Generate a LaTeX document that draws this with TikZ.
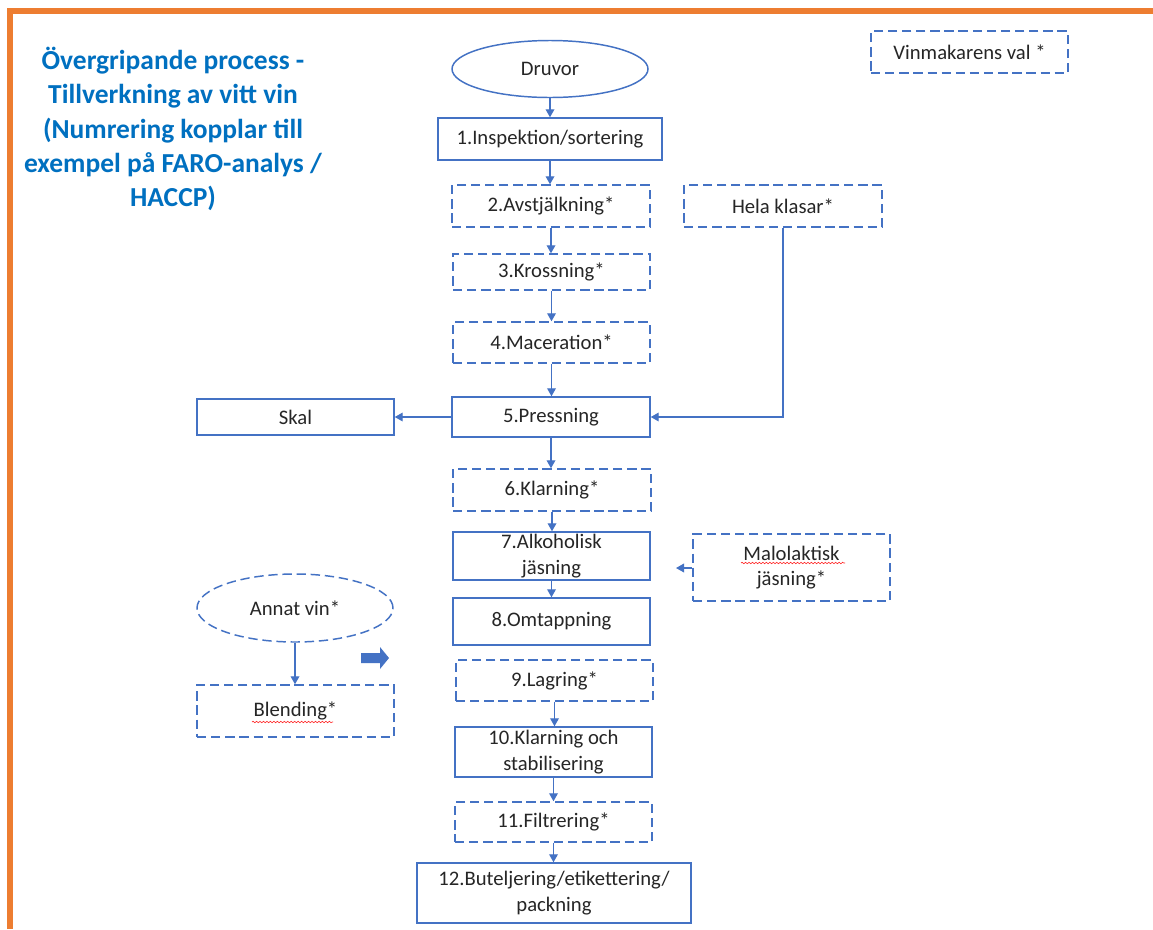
\documentclass[tikz,border=0pt]{standalone}
\usepackage{fontspec}
\setmainfont{Carlito}
\usetikzlibrary{arrows.meta,shapes.geometric,decorations.pathmorphing}
\definecolor{lineblue}{HTML}{4472C4}
\definecolor{titleblue}{HTML}{0070C0}
\definecolor{framecol}{HTML}{ED7D31}
\definecolor{txt}{HTML}{262626}

\begin{document}
\begin{tikzpicture}[x=0.75pt,y=-0.75pt,
  box/.style={draw=lineblue, line width=1.1pt, inner sep=0pt, text=txt,
    font=\fontsize{15.5}{19}\selectfont, align=center},
  optbox/.style={box, dash pattern=on 7pt off 3.6pt},
  oval/.style={box, ellipse},
  sz/.style 2 args={minimum width={#1*0.75pt}, minimum height={#2*0.75pt}},
  flow/.style={draw=lineblue, line width=1pt, -{Triangle[length=6pt,width=6.5pt]}},
  spell/.style={draw=red!85, line width=0.45pt, decorate,
    decoration={snake, amplitude=0.55pt, segment length=2.6pt}},
]
\useasboundingbox (0,0) rectangle (1153,929);
\fill[white] (0,0) rectangle (1153,929);

% page frame
\draw[framecol, line width=4.3pt, line join=miter] (10,929) -- (10,11) -- (1153,11);

% heading
\node[text=titleblue, font=\fontsize{20.6}{25.7}\selectfont\bfseries, align=center]
  (title) at (173,129) {Övergripande process -\\Tillverkning av vitt vin\\(Numrering kopplar till\\exempel på FARO-analys /\\HACCP)};

% legend
\node[optbox, sz={197}{42}] (legend) at (969.5,52) {Vinmakarens val *};

% main chain
\node[oval, sz={196}{57}] (druvor) at (550,69) {Druvor};
\node[box, sz={224}{42}] (s1) at (550,139) {1.Inspektion/sortering};
\node[optbox, sz={198}{42}] (s2) at (551,206) {2.Avstjälkning*};
\node[optbox, sz={197}{36}] (s3) at (551.5,272) {3.Krossning*};
\node[optbox, sz={197}{41}] (s4) at (551.5,342.5) {4.Maceration*};
\node[box, sz={198}{40}] (s5) at (551,417) {5.Pressning};
\node[optbox, sz={198}{42}] (s6) at (552,490) {6.Klarning*};
\node[box, sz={197}{48}] (s7) at (551.5,556) {7.Alkoholisk\\jäsning};
\node[box, sz={197}{47}] (s8) at (551.5,621.5) {8.Omtappning};
\node[optbox, sz={197}{41}] (s9) at (554.5,680.5) {9.Lagring*};
\node[box, sz={197}{50}] (s10) at (553.5,752) {10.Klarning och\\stabilisering};
\node[optbox, sz={197}{40}] (s11) at (553.5,822) {11.Filtrering*};
\node[box, sz={274}{60}] (s12) at (554,893) {12.Buteljering/etikettering/\\packning};

% side branches
\node[optbox, sz={198}{42}] (hela) at (783,206) {Hela klasar*};
\node[box, sz={197}{36}] (skal) at (295.5,417) {Skal};
\node[optbox, sz={197}{67}] (malo) at (791.5,567.5) {Malolaktisk\\jäsning*};
\node[oval, dash pattern=on 7pt off 3.6pt, sz={196}{68}] (annat) at (295,608) {Annat vin*};
\node[optbox, sz={197}{52}] (blend) at (295.5,711) {Blending*};
\coordinate (maloend) at (676,568);

% connectors
\draw[flow] (druvor.south) -- (druvor.south |- s1.north);
\draw[flow] (s1.south) -- (s1.south |- s2.north);
\draw[flow] (s2.south) -- (s2.south |- s3.north);
\draw[flow] (s3.south) -- (s3.south |- s4.north);
\draw[flow] (s4.south) -- (s4.south |- s5.north);
\draw[flow] (s5.south) -- (s5.south |- s6.north);
\draw[flow] (s6.south) -- (s6.south |- s7.north);
\draw[flow] (s7.south) -- (s7.south |- s8.north);
\draw[flow] (s9.south) -- (s9.south |- s10.north);
\draw[flow] (s10.south) -- (s10.south |- s11.north);
\draw[flow] (s11.south) -- (s11.south |- s12.north);
\draw[flow] (hela.south) -- (hela.south |- s5.east) -- (s5.east);
\draw[flow] (s5.west) -- (s5.west -| skal.east);
\draw[flow] (malo.west |- maloend) -- (maloend);
\draw[flow] (annat.south) -- (annat.south |- blend.north);

% block arrow
\fill[lineblue] (361,653) -- (380,653) -- (380,647) -- (389,658) -- (380,669) -- (380,663) -- (361,663) -- cycle;

% spelling marks
\draw[spell] (741,563) -- (845,563);
\draw[spell] (252,722) -- (333,722);
\end{tikzpicture}
\end{document}
